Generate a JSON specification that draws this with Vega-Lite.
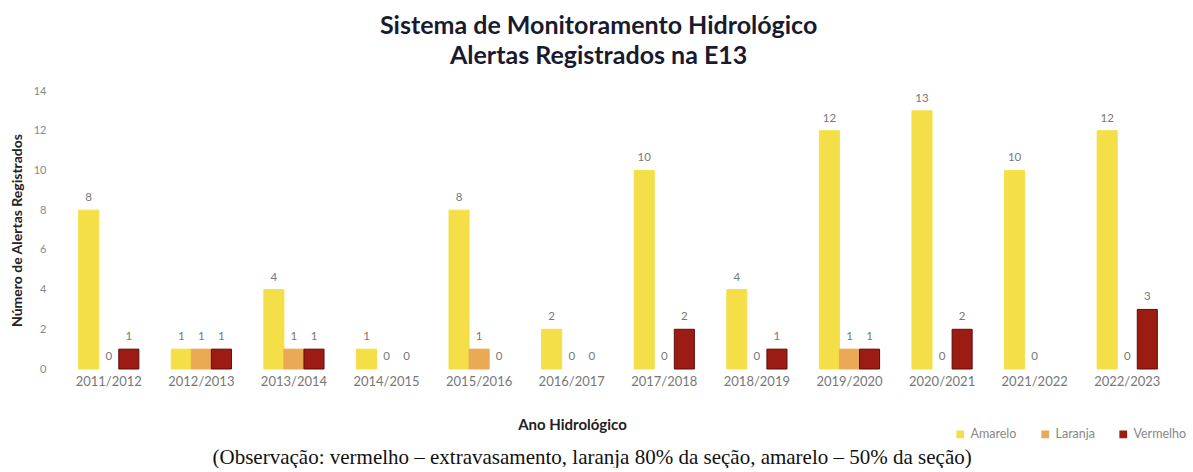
{
  "$schema": "https://vega.github.io/schema/vega-lite/v6.json",
  "background": "white",
  "padding": {"left": 10, "right": 0, "top": 14, "bottom": 0},
  "title": {
    "text": ["Sistema de Monitoramento Hidrológico", "Alertas Registrados na E13"],
    "font": "Lato",
    "fontSize": 25,
    "fontWeight": "bold",
    "color": "#1a1a2e",
    "lineHeight": 30,
    "anchor": "middle",
    "frame": "bounds",
    "offset": 16
  },
  "config": {
    "view": {"stroke": null},
    "font": "Lato"
  },
  "data": {
    "values": [
      {"ano": "2011/2012", "tipo": "Amarelo", "valor": 8},
      {"ano": "2011/2012", "tipo": "Laranja", "valor": 0},
      {"ano": "2011/2012", "tipo": "Vermelho", "valor": 1},
      {"ano": "2012/2013", "tipo": "Amarelo", "valor": 1},
      {"ano": "2012/2013", "tipo": "Laranja", "valor": 1},
      {"ano": "2012/2013", "tipo": "Vermelho", "valor": 1},
      {"ano": "2013/2014", "tipo": "Amarelo", "valor": 4},
      {"ano": "2013/2014", "tipo": "Laranja", "valor": 1},
      {"ano": "2013/2014", "tipo": "Vermelho", "valor": 1},
      {"ano": "2014/2015", "tipo": "Amarelo", "valor": 1},
      {"ano": "2014/2015", "tipo": "Laranja", "valor": 0},
      {"ano": "2014/2015", "tipo": "Vermelho", "valor": 0},
      {"ano": "2015/2016", "tipo": "Amarelo", "valor": 8},
      {"ano": "2015/2016", "tipo": "Laranja", "valor": 1},
      {"ano": "2015/2016", "tipo": "Vermelho", "valor": 0},
      {"ano": "2016/2017", "tipo": "Amarelo", "valor": 2},
      {"ano": "2016/2017", "tipo": "Laranja", "valor": 0},
      {"ano": "2016/2017", "tipo": "Vermelho", "valor": 0},
      {"ano": "2017/2018", "tipo": "Amarelo", "valor": 10},
      {"ano": "2017/2018", "tipo": "Laranja", "valor": 0},
      {"ano": "2017/2018", "tipo": "Vermelho", "valor": 2},
      {"ano": "2018/2019", "tipo": "Amarelo", "valor": 4},
      {"ano": "2018/2019", "tipo": "Laranja", "valor": 0},
      {"ano": "2018/2019", "tipo": "Vermelho", "valor": 1},
      {"ano": "2019/2020", "tipo": "Amarelo", "valor": 12},
      {"ano": "2019/2020", "tipo": "Laranja", "valor": 1},
      {"ano": "2019/2020", "tipo": "Vermelho", "valor": 1},
      {"ano": "2020/2021", "tipo": "Amarelo", "valor": 13},
      {"ano": "2020/2021", "tipo": "Laranja", "valor": 0},
      {"ano": "2020/2021", "tipo": "Vermelho", "valor": 2},
      {"ano": "2021/2022", "tipo": "Amarelo", "valor": 10},
      {"ano": "2021/2022", "tipo": "Laranja", "valor": 0},
      {"ano": "2021/2022", "tipo": "Vermelho", "valor": null},
      {"ano": "2022/2023", "tipo": "Amarelo", "valor": 12},
      {"ano": "2022/2023", "tipo": "Laranja", "valor": 0},
      {"ano": "2022/2023", "tipo": "Vermelho", "valor": 3}
    ]
  },
  "vconcat": [
    {
      "width": 1112,
      "height": 278,
      "title": {
        "text": "(Observação: vermelho – extravasamento, laranja 80% da seção, amarelo – 50% da seção)",
        "orient": "bottom",
        "font": "Liberation Serif",
        "fontSize": 21,
        "fontWeight": "normal",
        "color": "#111111",
        "anchor": "middle",
        "frame": "bounds",
        "offset": 15
      },
      "encoding": {
        "x": {
          "field": "ano",
          "type": "nominal",
          "title": "Ano Hidrológico",
          "scale": {"paddingInner": 0.35, "paddingOuter": 0.18},
          "axis": {
            "labelAngle": 0,
            "labelColor": "#777777",
            "labelFontSize": 13,
            "labelFont": "Lato",
            "ticks": false,
            "domain": false,
            "labelPadding": 6,
            "titleFontSize": 15,
            "titleFontWeight": "bold",
            "titleColor": "#222222",
            "titlePadding": 29,
            "titleX": 510
          }
        },
        "xOffset": {"field": "tipo", "type": "nominal", "sort": ["Amarelo", "Laranja", "Vermelho"], "scale": {"domain": ["Amarelo", "Laranja", "Vermelho"]}},
        "y": {
          "field": "valor",
          "type": "quantitative",
          "title": "Número de Alertas Registrados",
          "scale": {"domain": [0, 14]},
          "axis": {
            "values": [0, 2, 4, 6, 8, 10, 12, 14],
            "grid": false,
            "domain": false,
            "ticks": false,
            "labelColor": "#888888",
            "labelFontSize": 11,
            "labelPadding": 16,
            "titleFontSize": 14,
            "titleFontWeight": "bold",
            "titleColor": "#222222",
            "titlePadding": 9
          }
        }
      },
      "layer": [
        {
          "mark": {"type": "bar", "strokeWidth": 1},
          "transform": [{"filter": "datum.valor > 0"}],
          "encoding": {
            "color": {
              "field": "tipo",
              "type": "nominal",
              "title": null,
              "sort": ["Amarelo", "Laranja", "Vermelho"],
              "scale": {"domain": ["Amarelo", "Laranja", "Vermelho"], "range": ["#f5df48", "#eaa955", "#9c1b12"]},
              "legend": {
                "orient": "none",
                "legendX": 892,
                "legendY": 337,
                "direction": "horizontal",
                "symbolType": "square",
                "symbolSize": 60,
                "symbolStrokeWidth": 0,
                "labelColor": "#888888",
                "labelFontSize": 12.5,
                "columnPadding": 22
              }
            },
            "stroke": {
              "field": "tipo",
              "type": "nominal",
              "scale": {"domain": ["Amarelo", "Laranja", "Vermelho"], "range": ["#f5df48", "#eaa955", "#5a0f0a"]},
              "legend": null
            }
          }
        },
        {
          "mark": {"type": "text", "baseline": "bottom", "dy": -7, "fontSize": 11.5, "color": "#777777"},
          "transform": [{"filter": "datum.valor != null"}],
          "encoding": {"text": {"field": "valor", "type": "quantitative"}}
        }
      ]
    }
  ]
}
